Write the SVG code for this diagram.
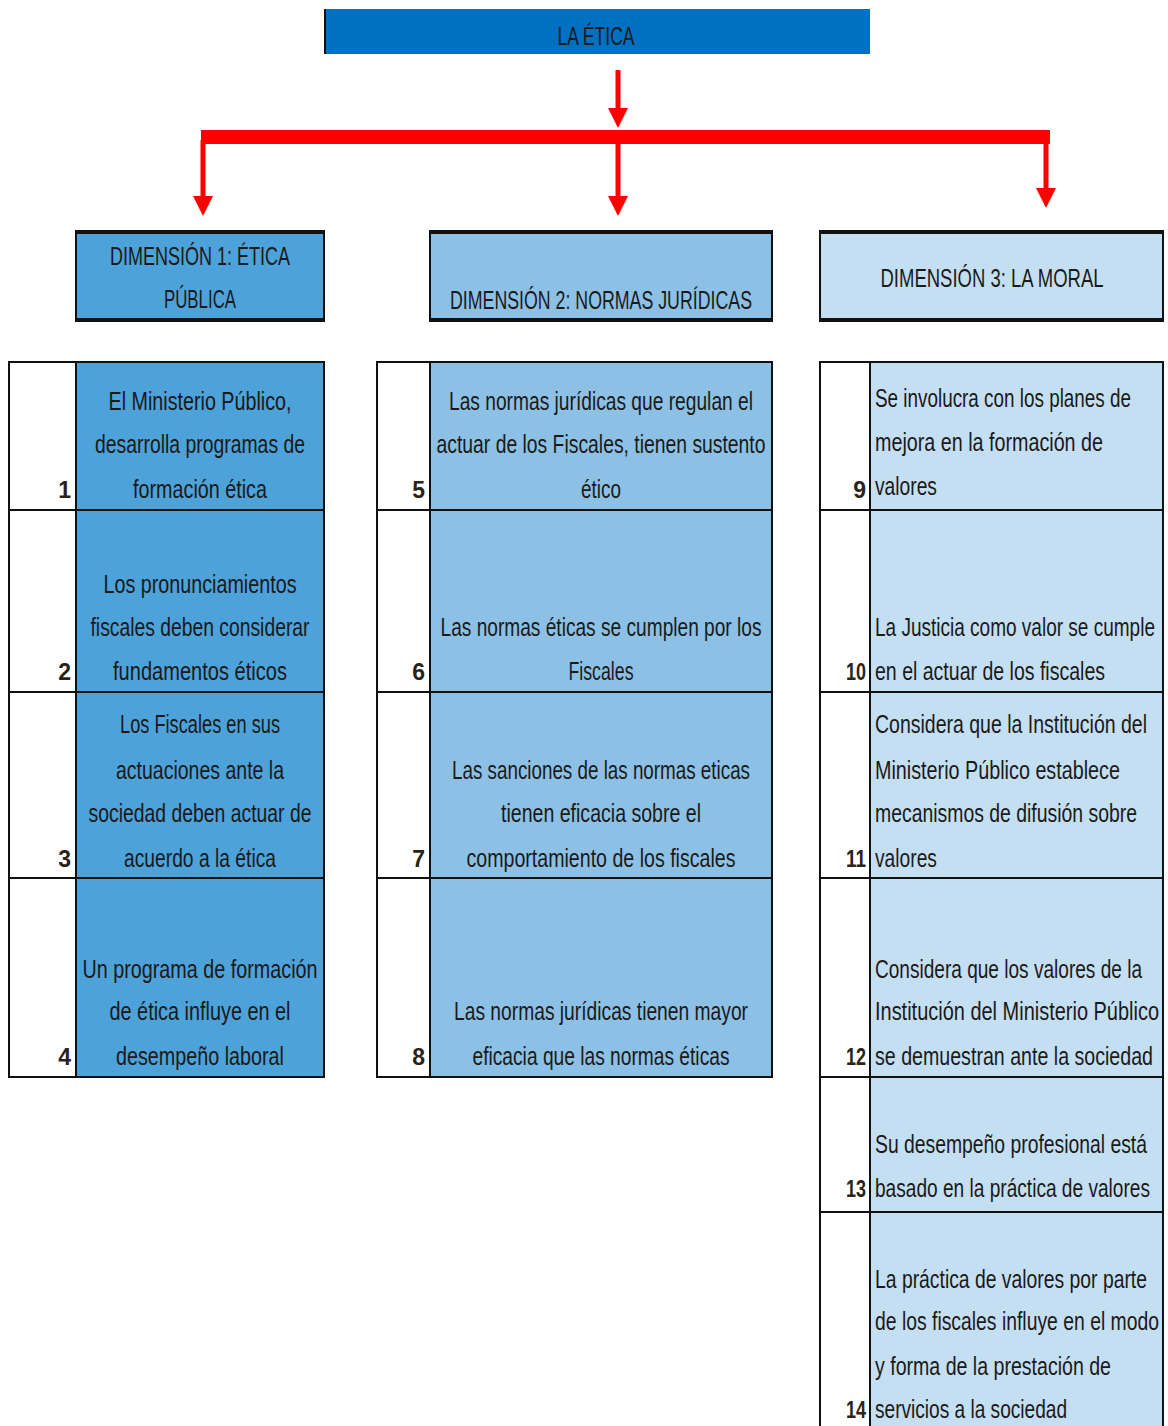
<svg xmlns="http://www.w3.org/2000/svg" width="1168" height="1426" viewBox="0 0 1168 1426">
<style>
  text{font-family:"Liberation Sans Narrow","Liberation Sans",Arial,sans-serif;font-size:26px;fill:#1a1a1a}
  .c{text-anchor:middle}
  .n{text-anchor:end;font-size:23px;font-weight:bold;fill:#2a2418}
  .d1{fill:#4DA2D9;stroke:#111;stroke-width:2}
  .d2{fill:#8CC1E5;stroke:#111;stroke-width:2}
  .d3{fill:#C5DFF2;stroke:#111;stroke-width:2}
  .w{fill:#fff;stroke:#111;stroke-width:2}
  .red{stroke:#FF0000;fill:none}
  .hd{stroke:#111;stroke-width:4}
</style>
<defs>
  <marker id="ah" markerWidth="4" markerHeight="4" refX="2" refY="2" orient="auto" markerUnits="strokeWidth">
    <path d="M0,0 L4,2 L0,4 Z" fill="#FF0000"/>
  </marker>
</defs>
<rect width="1168" height="1426" fill="#fff"/>

<g id="root">
  <rect x="325" y="9" width="545" height="45" fill="#0070C0"/>
  <line x1="325" y1="9" x2="325" y2="54" stroke="#111" stroke-width="2"/>
  <text x="596" y="45" class="c" textLength="77" lengthAdjust="spacingAndGlyphs">LA ÉTICA</text>
</g>

<g id="connectors">
  <rect x="201" y="130" width="849" height="14" fill="#FF0000"/>
  <line class="red" x1="618" y1="70" x2="618" y2="118" stroke-width="5" marker-end="url(#ah)"/>
  <line class="red" x1="618" y1="140" x2="618" y2="206" stroke-width="5" marker-end="url(#ah)"/>
  <line class="red" x1="203" y1="140" x2="203" y2="206" stroke-width="5" marker-end="url(#ah)"/>
  <line class="red" x1="1046" y1="140" x2="1046" y2="198" stroke-width="5" marker-end="url(#ah)"/>
</g>

<g id="dim1">
  <rect class="d1" x="76" y="232" width="248" height="88"/>
  <line class="hd" x1="75" y1="232" x2="325" y2="232"/>
  <line class="hd" x1="75" y1="320" x2="325" y2="320"/>
  <text x="200" y="265" class="c" textLength="180" lengthAdjust="spacingAndGlyphs">DIMENSIÓN 1: ÉTICA</text>
  <text x="200" y="308" class="c" textLength="72" lengthAdjust="spacingAndGlyphs">PÚBLICA</text>
</g>
<g id="dim2">
  <rect class="d2" x="430" y="232" width="342" height="88"/>
  <line class="hd" x1="429" y1="232" x2="773" y2="232"/>
  <line class="hd" x1="429" y1="320" x2="773" y2="320"/>
  <text x="601" y="309" class="c" textLength="302" lengthAdjust="spacingAndGlyphs">DIMENSIÓN 2: NORMAS JURÍDICAS</text>
</g>
<g id="dim3">
  <rect class="d3" x="820" y="232" width="343" height="88"/>
  <line class="hd" x1="819" y1="232" x2="1164" y2="232"/>
  <line class="hd" x1="819" y1="320" x2="1164" y2="320"/>
  <text x="992" y="287" class="c" textLength="223" lengthAdjust="spacingAndGlyphs">DIMENSIÓN 3: LA MORAL</text>
</g>

<!-- Column 1 -->
<g id="item1">
  <rect class="w" x="9" y="362" width="67" height="148"/>
  <rect class="d1" x="76" y="362" width="248" height="148"/>
  <text x="71" y="498" class="n">1</text>
  <text x="200" y="410" class="c" textLength="183" lengthAdjust="spacingAndGlyphs">El Ministerio Público,</text>
  <text x="200" y="453" class="c" textLength="210" lengthAdjust="spacingAndGlyphs">desarrolla programas de</text>
  <text x="200" y="498" class="c" textLength="134" lengthAdjust="spacingAndGlyphs">formación ética</text>
</g>
<g id="item2">
  <rect class="w" x="9" y="510" width="67" height="182"/>
  <rect class="d1" x="76" y="510" width="248" height="182"/>
  <text x="71" y="680" class="n">2</text>
  <text x="200" y="593" class="c" textLength="193" lengthAdjust="spacingAndGlyphs">Los pronunciamientos</text>
  <text x="200" y="636" class="c" textLength="219" lengthAdjust="spacingAndGlyphs">fiscales deben considerar</text>
  <text x="200" y="680" class="c" textLength="174" lengthAdjust="spacingAndGlyphs">fundamentos éticos</text>
</g>
<g id="item3">
  <rect class="w" x="9" y="692" width="67" height="186"/>
  <rect class="d1" x="76" y="692" width="248" height="186"/>
  <text x="71" y="867" class="n">3</text>
  <text x="200" y="733" class="c" textLength="160" lengthAdjust="spacingAndGlyphs">Los Fiscales en sus</text>
  <text x="200" y="779" class="c" textLength="168" lengthAdjust="spacingAndGlyphs">actuaciones ante la</text>
  <text x="200" y="822" class="c" textLength="223" lengthAdjust="spacingAndGlyphs">sociedad deben actuar de</text>
  <text x="200" y="867" class="c" textLength="152" lengthAdjust="spacingAndGlyphs">acuerdo a la ética</text>
</g>
<g id="item4">
  <rect class="w" x="9" y="878" width="67" height="199"/>
  <rect class="d1" x="76" y="878" width="248" height="199"/>
  <text x="71" y="1065" class="n">4</text>
  <text x="200" y="978" class="c" textLength="235" lengthAdjust="spacingAndGlyphs">Un programa de formación</text>
  <text x="200" y="1020" class="c" textLength="181" lengthAdjust="spacingAndGlyphs">de ética influye en el</text>
  <text x="200" y="1065" class="c" textLength="168" lengthAdjust="spacingAndGlyphs">desempeño laboral</text>
</g>

<!-- Column 2 -->
<g id="item5">
  <rect class="w" x="377" y="362" width="53" height="148"/>
  <rect class="d2" x="430" y="362" width="342" height="148"/>
  <text x="425" y="498" class="n">5</text>
  <text x="601" y="410" class="c" textLength="304" lengthAdjust="spacingAndGlyphs">Las normas jurídicas que regulan el</text>
  <text x="601" y="453" class="c" textLength="329" lengthAdjust="spacingAndGlyphs">actuar de los Fiscales, tienen sustento</text>
  <text x="601" y="498" class="c" textLength="40" lengthAdjust="spacingAndGlyphs">ético</text>
</g>
<g id="item6">
  <rect class="w" x="377" y="510" width="53" height="182"/>
  <rect class="d2" x="430" y="510" width="342" height="182"/>
  <text x="425" y="680" class="n">6</text>
  <text x="601" y="636" class="c" textLength="321" lengthAdjust="spacingAndGlyphs">Las normas éticas se cumplen por los</text>
  <text x="601" y="680" class="c" textLength="65" lengthAdjust="spacingAndGlyphs">Fiscales</text>
</g>
<g id="item7">
  <rect class="w" x="377" y="692" width="53" height="186"/>
  <rect class="d2" x="430" y="692" width="342" height="186"/>
  <text x="425" y="867" class="n">7</text>
  <text x="601" y="779" class="c" textLength="298" lengthAdjust="spacingAndGlyphs">Las sanciones de las normas eticas</text>
  <text x="601" y="822" class="c" textLength="200" lengthAdjust="spacingAndGlyphs">tienen eficacia sobre el</text>
  <text x="601" y="867" class="c" textLength="269" lengthAdjust="spacingAndGlyphs">comportamiento de los fiscales</text>
</g>
<g id="item8">
  <rect class="w" x="377" y="878" width="53" height="199"/>
  <rect class="d2" x="430" y="878" width="342" height="199"/>
  <text x="425" y="1065" class="n">8</text>
  <text x="601" y="1020" class="c" textLength="294" lengthAdjust="spacingAndGlyphs">Las normas jurídicas tienen mayor</text>
  <text x="601" y="1065" class="c" textLength="257" lengthAdjust="spacingAndGlyphs">eficacia que las normas éticas</text>
</g>

<!-- Column 3 -->
<g id="item9">
  <rect class="w" x="820" y="362" width="50" height="148"/>
  <rect class="d3" x="870" y="362" width="293" height="148"/>
  <text x="866" y="498" class="n">9</text>
  <text x="875" y="407" textLength="256" lengthAdjust="spacingAndGlyphs">Se involucra con los planes de</text>
  <text x="875" y="451" textLength="228" lengthAdjust="spacingAndGlyphs">mejora en la formación de</text>
  <text x="875" y="495" textLength="62" lengthAdjust="spacingAndGlyphs">valores</text>
</g>
<g id="item10">
  <rect class="w" x="820" y="510" width="50" height="182"/>
  <rect class="d3" x="870" y="510" width="293" height="182"/>
  <text x="866" y="680" class="n" textLength="20" lengthAdjust="spacingAndGlyphs">10</text>
  <text x="875" y="636" textLength="280" lengthAdjust="spacingAndGlyphs">La Justicia como valor se cumple</text>
  <text x="875" y="680" textLength="230" lengthAdjust="spacingAndGlyphs">en el actuar  de los fiscales</text>
</g>
<g id="item11">
  <rect class="w" x="820" y="692" width="50" height="186"/>
  <rect class="d3" x="870" y="692" width="293" height="186"/>
  <text x="866" y="867" class="n" textLength="20" lengthAdjust="spacingAndGlyphs">11</text>
  <text x="875" y="733" textLength="272" lengthAdjust="spacingAndGlyphs">Considera que la Institución del</text>
  <text x="875" y="779" textLength="245" lengthAdjust="spacingAndGlyphs">Ministerio Público establece</text>
  <text x="875" y="822" textLength="262" lengthAdjust="spacingAndGlyphs">mecanismos de difusión sobre</text>
  <text x="875" y="867" textLength="62" lengthAdjust="spacingAndGlyphs">valores</text>
</g>
<g id="item12">
  <rect class="w" x="820" y="878" width="50" height="199"/>
  <rect class="d3" x="870" y="878" width="293" height="199"/>
  <text x="866" y="1065" class="n" textLength="20" lengthAdjust="spacingAndGlyphs">12</text>
  <text x="875" y="978" textLength="267" lengthAdjust="spacingAndGlyphs">Considera que los valores de la</text>
  <text x="875" y="1020" textLength="284" lengthAdjust="spacingAndGlyphs">Institución del Ministerio Público</text>
  <text x="875" y="1065" textLength="278" lengthAdjust="spacingAndGlyphs">se demuestran  ante la sociedad</text>
</g>
<g id="item13">
  <rect class="w" x="820" y="1077" width="50" height="135"/>
  <rect class="d3" x="870" y="1077" width="293" height="135"/>
  <text x="866" y="1197" class="n" textLength="20" lengthAdjust="spacingAndGlyphs">13</text>
  <text x="875" y="1153" textLength="272" lengthAdjust="spacingAndGlyphs">Su desempeño profesional está</text>
  <text x="875" y="1197" textLength="275" lengthAdjust="spacingAndGlyphs">basado en la práctica de valores</text>
</g>
<g id="item14">
  <rect class="w" x="820" y="1212" width="50" height="220"/>
  <rect class="d3" x="870" y="1212" width="293" height="220"/>
  <text x="866" y="1418" class="n" textLength="20" lengthAdjust="spacingAndGlyphs">14</text>
  <text x="875" y="1288" textLength="272" lengthAdjust="spacingAndGlyphs">La práctica de valores por parte</text>
  <text x="875" y="1330" textLength="284" lengthAdjust="spacingAndGlyphs">de los fiscales influye en el modo</text>
  <text x="875" y="1375" textLength="236" lengthAdjust="spacingAndGlyphs">y forma de la prestación de</text>
  <text x="875" y="1418" textLength="192" lengthAdjust="spacingAndGlyphs">servicios a la sociedad</text>
</g>
</svg>
